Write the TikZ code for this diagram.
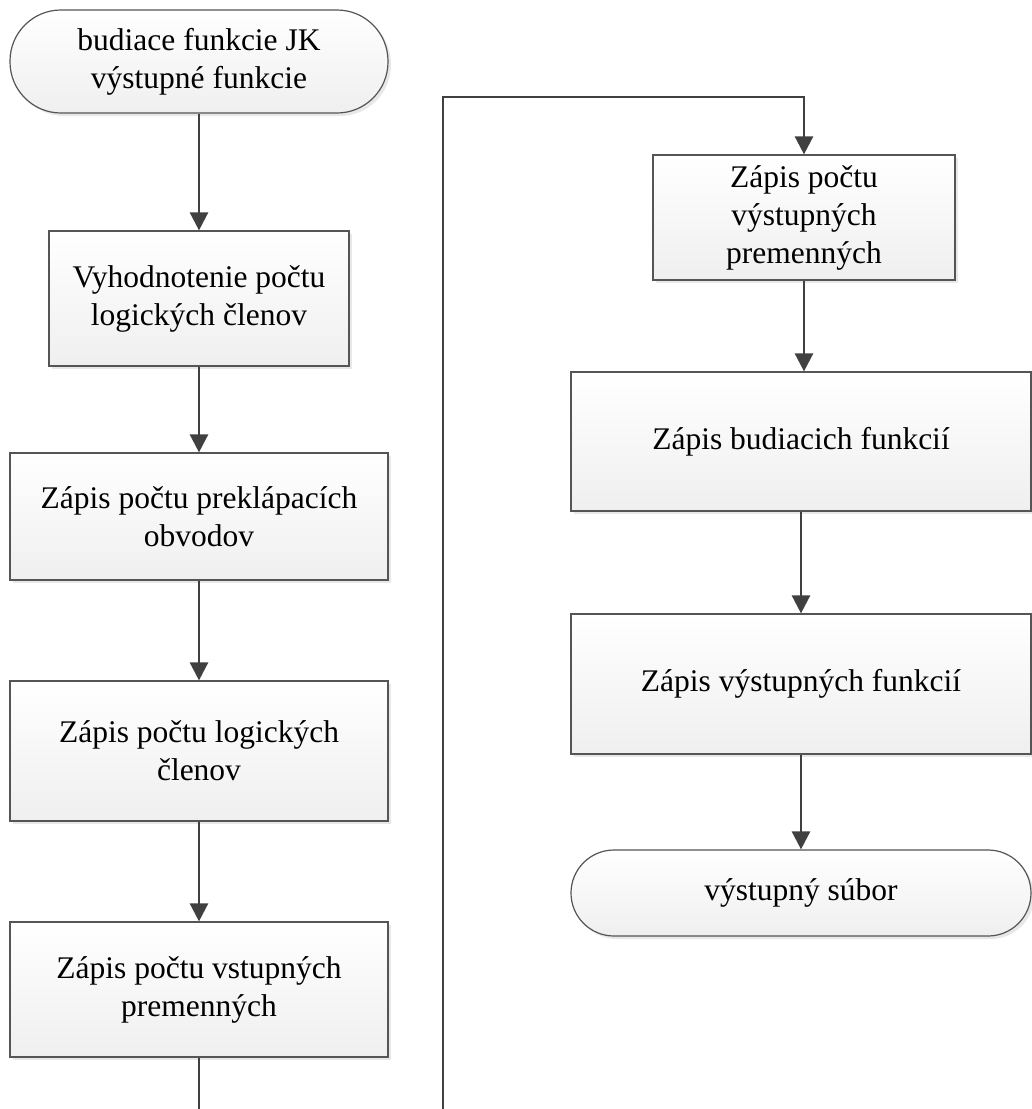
\documentclass[tikz,border=0pt]{standalone}
\usepackage{fontspec}
\setmainfont{Liberation Serif}
\usetikzlibrary{arrows.meta,shadows}

\definecolor{edge}{HTML}{555555}
\definecolor{wire}{HTML}{404040}
\definecolor{boxbottom}{HTML}{EFEFEF}

\tikzset{
  base/.style={
    draw=edge, line width=1.2pt,
    top color=white, bottom color=boxbottom,
    align=center, inner sep=0pt,
    font=\fontsize{31.5pt}{38pt}\selectfont,
    drop shadow={shadow xshift=3pt, shadow yshift=-3pt, fill=black!9, opacity=1}
  },
  stepbox/.style={base, rectangle},
  terminal/.style={base, rectangle},
  flow/.style={draw=wire, line width=2.6pt,
    -{Triangle[width=18pt,length=18pt]}},
}

\begin{document}
\begin{tikzpicture}[x=1pt, y=-1pt]
  \useasboundingbox (0,0) rectangle (1032,1109);

  % left column
  \node[terminal, minimum width=378pt, minimum height=103pt, rounded corners=51pt]
    (start) at (199,61.5) {budiace funkcie JK\\výstupné funkcie};
  \node[stepbox, minimum width=300pt, minimum height=135pt]
    (eval) at (199,298.5) {Vyhodnotenie počtu\\logických členov};
  \node[stepbox, minimum width=378pt, minimum height=127pt]
    (ff) at (199,516.5) {Zápis počtu preklápacích\\obvodov};
  \node[stepbox, minimum width=378pt, minimum height=140pt]
    (gates) at (199,751) {Zápis počtu logických\\členov};
  \node[stepbox, minimum width=378pt, minimum height=135pt]
    (inputs) at (199,989.5) {Zápis počtu vstupných\\premenných};

  % right column
  \node[stepbox, minimum width=302pt, minimum height=125pt]
    (outputs) at (804,217.5) {Zápis počtu\\výstupných\\premenných};
  \node[stepbox, minimum width=460pt, minimum height=139pt]
    (excite) at (801,441.5) {Zápis budiacich funkcií};
  \node[stepbox, minimum width=460pt, minimum height=140pt]
    (outfun) at (801,684) {Zápis výstupných funkcií};
  \node[terminal, minimum width=460pt, minimum height=86pt, rounded corners=43pt]
    (stop) at (801,893) {výstupný súbor};

  % connectors
  \draw[flow] (start) -- (eval);
  \draw[flow] (eval) -- (ff);
  \draw[flow] (ff) -- (gates);
  \draw[flow] (gates) -- (inputs);

  \coordinate (below) at (199,1160);
  \coordinate (riser) at (443,97);
  \draw[flow] (inputs.south) -- (below) -| (riser) -| (outputs.north);

  \draw[flow] (outputs.south) -- (outputs.south |- excite.north);
  \draw[flow] (excite.south) -- (excite.south |- outfun.north);
  \draw[flow] (outfun.south) -- (outfun.south |- stop.north);
\end{tikzpicture}
\end{document}
